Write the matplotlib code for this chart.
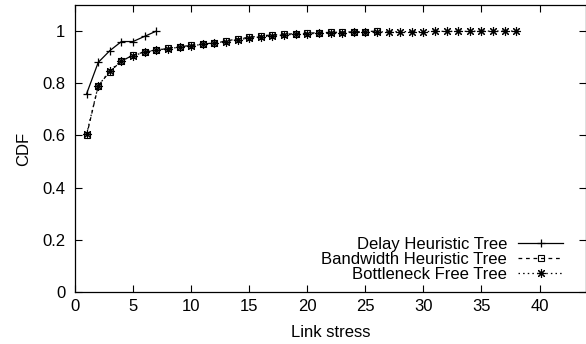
import matplotlib
matplotlib.use('Agg')
import matplotlib.pyplot as plt
import numpy as np

plt.rcParams['font.family'] = ['Liberation Sans', 'DejaVu Sans']
plt.rcParams['font.size'] = 12

# link stress CDF data
delay_x = [1, 2, 3, 4, 5, 6, 7]
delay_y = [0.76, 0.88, 0.925, 0.96, 0.96, 0.98, 1.0]

bw_x = list(range(1, 27))
bw_y = [0.60, 0.79, 0.845, 0.885, 0.908, 0.92, 0.926, 0.934, 0.940, 0.945,
        0.950, 0.955, 0.962, 0.970, 0.976, 0.982, 0.985, 0.988, 0.990, 0.992,
        0.994, 0.995, 0.996, 0.997, 0.998, 1.0]

bn_x = list(range(1, 39))
bn_y = [0.605, 0.79, 0.848, 0.887, 0.905, 0.92, 0.928, 0.933, 0.938, 0.944,
        0.949, 0.955, 0.960, 0.967, 0.973, 0.978, 0.982, 0.985, 0.988, 0.990,
        0.991, 0.993, 0.994, 0.995, 0.996, 0.997, 0.997, 0.998, 0.998, 0.998,
        0.999, 0.999, 0.999, 0.999, 1.0, 1.0, 1.0, 1.0]

labels = ['Delay Heuristic Tree', 'Bandwidth Heuristic Tree', 'Bottleneck Free Tree']

fig = plt.figure(figsize=(5.86, 3.44), dpi=100)
ax = fig.add_axes([75/586, 1-292/344, 511/586, 287/344])

ax.plot(delay_x, delay_y, color='black', lw=0.9, ls='-', marker='+', ms=6,
        mew=0.9, label=labels[0])
ax.plot(bw_x, bw_y, color='black', lw=0.9, ls=(0, (3, 3)), marker='s', ms=5,
        mfc='none', mew=0.8, label=labels[1])
ax.plot(bn_x, bn_y, color='black', lw=0.9, ls=(0, (1.2, 2.5)), marker=(8, 2, 0),
        ms=6.5, mew=0.8, label=labels[2])

ax.set_xlim(0, 44)
ax.set_ylim(0, 1.1)
ax.set_xticks([0, 5, 10, 15, 20, 25, 30, 35, 40])
ax.set_yticks([0, 0.2, 0.4, 0.6, 0.8, 1.0])
ax.set_yticklabels(['0', '0.2', '0.4', '0.6', '0.8', '1'])
ax.tick_params(direction='in', top=True, right=True, length=5, width=0.8)
ax.tick_params(axis='y', pad=7)
ax.tick_params(axis='x', pad=5)
for s in ax.spines.values():
    s.set_linewidth(0.9)

ax.set_xlabel('Link stress', labelpad=8)
ax.set_ylabel('CDF', labelpad=8)

ax.legend(loc='lower right', frameon=False, markerfirst=False, handlelength=2.7,
          handletextpad=0.65, labelspacing=0.0, borderaxespad=0, borderpad=0,
          bbox_to_anchor=(0.955, 0.035))

fig.savefig('out.png', dpi=100)
